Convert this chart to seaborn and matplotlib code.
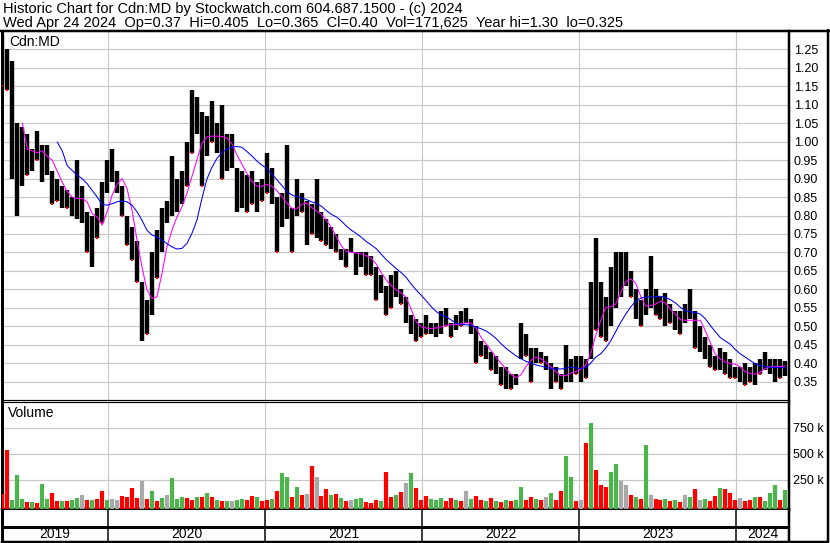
import numpy as np
import pandas as pd
import matplotlib
matplotlib.use("Agg")
import matplotlib.pyplot as plt
from matplotlib.lines import Line2D
import seaborn as sns

# ---------------- data ----------------
high = [
    1.29, 1.25, 1.22, 1.05, 1.04, 1.02, 0.98, 1.03, 0.99, 0.99,
    0.92, 0.90, 0.88, 0.87, 0.85, 0.95, 0.88, 0.81, 0.80, 0.82,
    0.89, 0.95, 0.98, 0.92, 0.88, 0.80, 0.77, 0.73, 0.62, 0.57,
    0.70, 0.76, 0.82, 0.84, 0.96, 0.90, 0.92, 1.00, 1.14, 1.12,
    1.08, 1.07, 1.11, 1.05, 1.10, 1.02, 1.02, 0.93, 0.92, 0.91,
    0.92, 0.89, 0.90, 0.97, 0.93, 0.85, 0.86, 0.99, 0.82, 0.90,
    0.86, 0.84, 0.83, 0.90, 0.81, 0.79, 0.77, 0.75, 0.71, 0.71,
    0.74, 0.70, 0.70, 0.70, 0.69, 0.66, 0.64, 0.61, 0.64, 0.65,
    0.60, 0.58, 0.53, 0.52, 0.51, 0.53, 0.51, 0.51, 0.54, 0.55,
    0.51, 0.53, 0.54, 0.55, 0.52, 0.50, 0.46, 0.45, 0.43, 0.42,
    0.39, 0.39, 0.37, 0.37, 0.51, 0.48, 0.44, 0.44, 0.43, 0.42,
    0.40, 0.39, 0.37, 0.45, 0.41, 0.42, 0.42, 0.41, 0.62, 0.74,
    0.62, 0.58, 0.66, 0.70, 0.70, 0.70, 0.65, 0.60, 0.57, 0.60,
    0.69, 0.60, 0.58, 0.59, 0.56, 0.54, 0.54, 0.56, 0.60, 0.54,
    0.50, 0.47, 0.45, 0.42, 0.44, 0.43, 0.41, 0.39, 0.39, 0.40,
    0.39, 0.40, 0.41, 0.43, 0.41, 0.41, 0.41, 0.405,
]
low = [
    1.15, 1.14, 0.90, 0.80, 0.88, 0.91, 0.92, 0.95, 0.89, 0.91,
    0.83, 0.84, 0.82, 0.82, 0.80, 0.79, 0.78, 0.70, 0.66, 0.74,
    0.78, 0.86, 0.89, 0.86, 0.80, 0.72, 0.68, 0.62, 0.46, 0.48,
    0.53, 0.63, 0.70, 0.78, 0.80, 0.81, 0.83, 0.88, 0.97, 1.02,
    0.88, 0.96, 1.00, 0.97, 0.90, 0.92, 0.93, 0.81, 0.82, 0.81,
    0.83, 0.81, 0.84, 0.86, 0.83, 0.70, 0.77, 0.79, 0.70, 0.80,
    0.81, 0.72, 0.75, 0.74, 0.73, 0.72, 0.71, 0.70, 0.68, 0.66,
    0.70, 0.64, 0.66, 0.64, 0.64, 0.57, 0.59, 0.53, 0.55, 0.58,
    0.56, 0.51, 0.48, 0.46, 0.47, 0.48, 0.48, 0.47, 0.48, 0.50,
    0.47, 0.49, 0.50, 0.51, 0.48, 0.40, 0.42, 0.41, 0.38, 0.37,
    0.34, 0.33, 0.33, 0.34, 0.41, 0.42, 0.35, 0.40, 0.40, 0.38,
    0.33, 0.35, 0.33, 0.35, 0.35, 0.37, 0.35, 0.36, 0.41, 0.49,
    0.47, 0.46, 0.50, 0.55, 0.58, 0.61, 0.58, 0.52, 0.50, 0.53,
    0.55, 0.53, 0.52, 0.50, 0.51, 0.49, 0.48, 0.51, 0.52, 0.44,
    0.43, 0.41, 0.39, 0.38, 0.38, 0.37, 0.36, 0.36, 0.35, 0.34,
    0.35, 0.34, 0.37, 0.38, 0.37, 0.35, 0.36, 0.365,
]
nan = np.nan
ma_fast = [nan] * 4 + [
    1.05, 0.98, 0.975, 0.97, 0.975, 0.96, 0.95, 0.92, 0.89, 0.865,
    0.85, 0.846, 0.846, 0.837, 0.805, 0.796, 0.774, 0.81, 0.855, 0.885,
    0.90, 0.873, 0.814, 0.733, 0.66, 0.598, 0.575, 0.58, 0.643, 0.715,
    0.76, 0.796, 0.823, 0.86, 0.905, 0.95, 0.995, 1.013, 1.015, 1.015,
    1.014, 1.01, 0.995, 0.965, 0.94, 0.915, 0.893, 0.88, 0.879, 0.884,
    0.88, 0.868, 0.852, 0.835, 0.82, 0.818, 0.83, 0.834, 0.822, 0.812,
    0.803, 0.787, 0.767, 0.742, 0.717, 0.703, 0.70, 0.698, 0.696, 0.691,
    0.684, 0.668, 0.645, 0.625, 0.61, 0.598, 0.59, 0.578, 0.545, 0.512,
    0.498, 0.495, 0.494, 0.495, 0.498, 0.502, 0.504, 0.505, 0.507, 0.509,
    0.508, 0.495, 0.47, 0.452, 0.434, 0.416, 0.40, 0.384, 0.37, 0.36,
    0.368, 0.39, 0.407, 0.416, 0.412, 0.402, 0.39, 0.377, 0.366, 0.366,
    0.373, 0.377, 0.383, 0.395, 0.425, 0.475, 0.515, 0.55, 0.553, 0.56,
    0.59, 0.62, 0.628, 0.617, 0.582, 0.555, 0.556, 0.56, 0.568, 0.563,
    0.546, 0.532, 0.518, 0.516, 0.516, 0.516, 0.516, 0.487, 0.455, 0.424,
    0.411, 0.403, 0.399, 0.397, 0.39, 0.377, 0.372, 0.37, 0.376, 0.385,
    0.39, 0.39, 0.39, 0.392,
]
ma_slow = [nan] * 11 + [
    0.999, 0.975, 0.935, 0.922, 0.909, 0.90, 0.886, 0.868, 0.85, 0.83,
    0.828, 0.832, 0.837, 0.84, 0.837, 0.828, 0.81, 0.787, 0.76, 0.747,
    0.742, 0.733, 0.724, 0.715, 0.709, 0.711, 0.724, 0.751, 0.787, 0.845,
    0.898, 0.93, 0.954, 0.97, 0.98, 0.985, 0.987, 0.985, 0.974, 0.962,
    0.948, 0.937, 0.928, 0.913, 0.898, 0.882, 0.866, 0.856, 0.851, 0.848,
    0.843, 0.837, 0.833, 0.825, 0.813, 0.803, 0.796, 0.785, 0.771, 0.76,
    0.751, 0.741, 0.729, 0.72, 0.71, 0.695, 0.68, 0.668, 0.656, 0.645,
    0.632, 0.614, 0.598, 0.584, 0.569, 0.553, 0.54, 0.53, 0.526, 0.517,
    0.508, 0.505, 0.504, 0.502, 0.498, 0.493, 0.487, 0.478, 0.467, 0.453,
    0.44, 0.43, 0.42, 0.412, 0.405, 0.40, 0.395, 0.392, 0.389, 0.385,
    0.384, 0.384, 0.386, 0.389, 0.387, 0.385, 0.388, 0.40, 0.416, 0.425,
    0.44, 0.46, 0.485, 0.51, 0.532, 0.552, 0.567, 0.576, 0.579, 0.579,
    0.58, 0.581, 0.578, 0.572, 0.563, 0.551, 0.542, 0.539, 0.537, 0.533,
    0.52, 0.502, 0.485, 0.469, 0.46, 0.451, 0.437, 0.425, 0.416, 0.407,
    0.398, 0.393, 0.391, 0.389, 0.388, 0.388, 0.387,
]
volume_k = [
    120, 538, 60, 298, 67, 40, 35, 30, 212, 70,
    125, 45, 50, 48, 60, 80, 106, 55, 58, 70,
    144, 60, 65, 55, 100, 90, 176, 80, 243, 70,
    144, 50, 75, 106, 272, 70, 90, 80, 60, 85,
    90, 125, 90, 60, 50, 45, 45, 55, 70, 60,
    95, 85, 50, 60, 70, 140, 320, 276, 90, 186,
    110, 120, 385, 276, 100, 163, 110, 120, 80, 50,
    60, 70, 75, 40, 30, 60, 50, 327, 90, 110,
    130, 218, 314, 170, 60, 96, 70, 60, 80, 50,
    75, 60, 50, 147, 70, 100, 60, 50, 75, 45,
    40, 60, 50, 60, 180, 60, 90, 70, 60, 90,
    128, 60, 147, 481, 276, 50, 60, 603, 795, 346,
    202, 186, 330, 404, 244, 200, 110, 90, 70, 587,
    110, 70, 60, 70, 50, 60, 40, 106, 90, 167,
    60, 70, 50, 100, 176, 167, 122, 60, 80, 50,
    60, 90, 90, 50, 122, 202, 60, 154,
]
# +1 up day (green), -1 down day (red), 0 unchanged (grey)
direction = [
    -1, -1, 1, 1, 1, -1, 1, -1, 1, 1,
    -1, -1, 1, -1, 1, 1, 0, -1, 1, -1,
    -1, 1, 0, 0, -1, -1, -1, -1, 0, -1,
    1, -1, 1, 0, 1, 1, 1, -1, -1, 1,
    -1, 1, -1, 1, -1, 1, 0, 1, 1, -1,
    -1, 1, -1, -1, 1, -1, 1, 1, -1, 1,
    -1, 0, -1, 0, -1, -1, 1, -1, 1, -1,
    0, 1, 1, -1, -1, -1, 1, -1, -1, 1,
    -1, 0, 1, -1, -1, -1, 1, 1, 1, -1,
    -1, 1, -1, 0, 1, -1, -1, 1, -1, 1,
    -1, 1, -1, 1, 1, -1, -1, 1, -1, 0,
    1, -1, -1, 1, 1, -1, 0, -1, 1, -1,
    -1, -1, 1, 1, 0, 0, -1, 1, -1, 1,
    0, -1, -1, 1, -1, 1, -1, 0, 1, -1,
    0, 1, -1, -1, 1, -1, -1, -1, 0, -1,
    -1, 1, -1, 1, 1, 1, -1, 1,
]
years = ["2019", "2020", "2021", "2022", "2023", "2024"]
price_ticks = [0.35, 0.40, 0.45, 0.50, 0.55, 0.60, 0.65, 0.70, 0.75, 0.80,
               0.85, 0.90, 0.95, 1.00, 1.05, 1.10, 1.15, 1.20, 1.25]
vol_ticks = [250000, 500000, 750000]
vol_tick_labels = ["250 k", "500 k", "750 k"]
title_line1 = "Historic Chart for Cdn:MD by Stockwatch.com 604.687.1500 - (c) 2024"
title_line2 = ("Wed Apr 24 2024  Op=0.37  Hi=0.405  Lo=0.365  Cl=0.40  "
               "Vol=171,625  Year hi=1.30  lo=0.325")
symbol = "Cdn:MD"

dates = pd.date_range("2019-04-30", "2024-04-24", periods=len(high))
df = pd.DataFrame({"date": dates, "high": high, "low": low,
                   "ma_fast": ma_fast, "ma_slow": ma_slow,
                   "volume": np.array(volume_k) * 1000, "dir": direction})

# ---------------- style ----------------
sns.set_theme(style="white")
plt.rcParams["font.family"] = ["Liberation Sans", "DejaVu Sans"]
W, H = 830, 543
PX = 72.0 / 100.0  # points per pixel at dpi=100
GRID = "#c8c8c8"
RED, GREEN, GREY = "#ff0000", "#4db34d", "#a8a8a8"
FS = 9.0

def fx(px):
    return px / W

def fy(py):
    return 1 - py / H

fig = plt.figure(figsize=(W / 100, H / 100), dpi=100)
fig.patch.set_facecolor("white")

xmin = pd.Timestamp("2019-04-29")
xmax = pd.Timestamp("2024-05-03")
year_starts = [pd.Timestamp(f"{y}-01-01") for y in years[1:]]

LEFT, RIGHT = 2, 789
ax_p = fig.add_axes([fx(LEFT), fy(400), fx(RIGHT - LEFT), (400 - 31) / H])
ax_v = fig.add_axes([fx(LEFT), fy(509), fx(RIGHT - LEFT), (509 - 402) / H])
ax_b = fig.add_axes([fx(LEFT), fy(542), fx(RIGHT - LEFT), (542 - 510) / H])

for ax in (ax_p, ax_v, ax_b):
    ax.set_facecolor("white")
    ax.set_xlim(xmin, xmax)
    for s in ax.spines.values():
        s.set_color("black")
        s.set_visible(True)

# ---------------- price panel ----------------
ax_p.set_ylim(0.30, 1.30)
ax_p.set_yticks(price_ticks)
ax_p.set_yticklabels([f"{t:.2f}" for t in price_ticks])
ax_p.yaxis.tick_right()
ax_p.set_xticks(year_starts)
ax_p.set_xticklabels([])
ax_p.grid(True, color=GRID, linewidth=1.2 * PX)
ax_p.set_axisbelow(True)
ax_p.tick_params(axis="both", length=0, pad=5 * PX, labelsize=FS, colors="black")
ax_p.spines["left"].set_linewidth(3 * PX)
ax_p.spines["top"].set_linewidth(2 * PX)
ax_p.spines["right"].set_linewidth(2.5 * PX)
ax_p.spines["bottom"].set_linewidth(1.2 * PX)

ax_p.vlines(df["date"], df["low"], df["high"], color="black",
            linewidth=4.4 * PX, zorder=3)
down = df[df["dir"] < 0]
ax_p.scatter(down["date"], down["low"], s=3, color=RED, marker="s",
             linewidths=0, zorder=4)
sns.lineplot(data=df, x="date", y="ma_fast", ax=ax_p, color="#ff00ff",
             linewidth=1.05 * PX, zorder=5)
sns.lineplot(data=df, x="date", y="ma_slow", ax=ax_p, color="#0000ff",
             linewidth=1.05 * PX, zorder=5)
ax_p.set_xlabel("")
ax_p.set_ylabel("")

# ---------------- volume panel ----------------
VOL_FLOOR = -29000
ax_v.set_ylim(VOL_FLOOR, 1000000)
ax_v.set_yticks(vol_ticks)
ax_v.set_yticklabels(vol_tick_labels)
ax_v.yaxis.tick_right()
ax_v.set_xticks(year_starts)
ax_v.set_xticklabels([])
ax_v.grid(True, color=GRID, linewidth=1.2 * PX)
ax_v.set_axisbelow(True)
ax_v.tick_params(axis="both", length=0, pad=4 * PX, labelsize=FS, colors="black")
ax_v.spines["left"].set_linewidth(3 * PX)
ax_v.spines["top"].set_linewidth(1.2 * PX)
ax_v.spines["right"].set_linewidth(2.5 * PX)
ax_v.spines["bottom"].set_linewidth(2.5 * PX)
cmap = {1: GREEN, -1: RED, 0: GREY}
ax_v.vlines(df["date"], VOL_FLOOR, df["volume"],
            colors=[cmap[d] for d in df["dir"]], linewidth=4.2 * PX, zorder=3)

# ---------------- year band ----------------
ax_b.set_ylim(0, 1)
ax_b.set_xticks([])
ax_b.set_yticks([])
ax_b.spines["top"].set_visible(False)
ax_b.spines["left"].set_linewidth(3 * PX)
ax_b.spines["right"].set_linewidth(2.5 * PX)
ax_b.spines["bottom"].set_linewidth(2.5 * PX)
mid = 1 - (527 - 510) / (542 - 510)
ax_b.axhline(mid, color="black", linewidth=3 * PX)
for ys in year_starts:
    ax_b.axvline(ys, color="black", linewidth=1.5 * PX)
bounds = [xmin] + year_starts + [xmax]
for i, y in enumerate(years):
    c = bounds[i] + (bounds[i + 1] - bounds[i]) / 2
    ax_b.text(c, mid / 2, y, ha="center", va="center", fontsize=FS + 1.0,
              color="black")

# ---------------- texts and frame ----------------
fig.text(fx(3), fy(9.5), title_line1, ha="left", va="center", fontsize=10.5,
         color="black")
fig.text(fx(3), fy(22.5), title_line2, ha="left", va="center", fontsize=10.5,
         color="black")
fig.text(fx(9), fy(42), symbol, ha="left", va="center", fontsize=FS + 1.0,
         color="black")
fig.text(fx(8), fy(413), "Volume", ha="left", va="center", fontsize=FS + 1.0,
         color="black")

fig.add_artist(Line2D([0, 1], [fy(30.5), fy(30.5)], transform=fig.transFigure,
                      color="black", linewidth=2.5 * PX))
fig.add_artist(Line2D([fx(827.5), fx(827.5)], [fy(30), fy(542)],
                      transform=fig.transFigure, color="black", linewidth=2.5 * PX))
fig.add_artist(Line2D([fx(789), fx(828)], [fy(541.5), fy(541.5)],
                      transform=fig.transFigure, color="black", linewidth=2.5 * PX))

fig.savefig("out.png", dpi=100)
